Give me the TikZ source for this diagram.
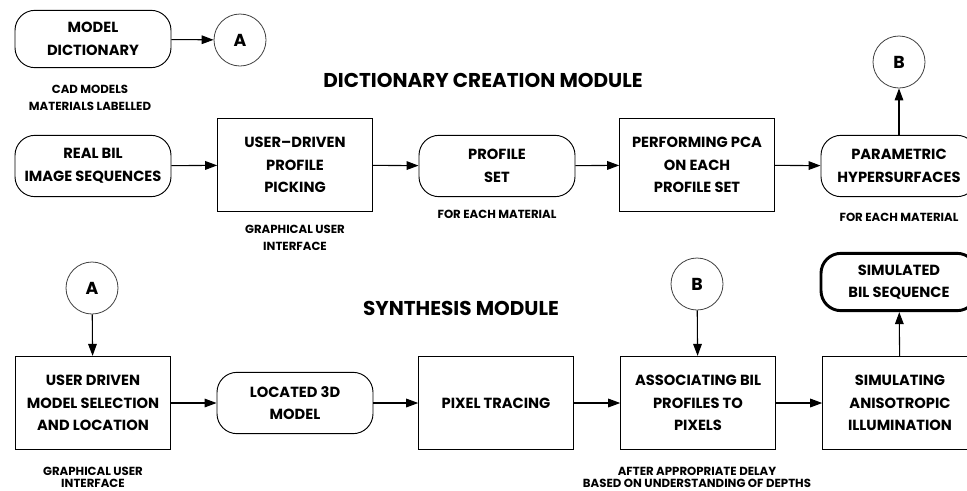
\documentclass[tikz,border=0pt]{standalone}
\usepackage{fontspec}
\setmainfont{Poppins}
\usetikzlibrary{arrows.meta}

\tikzset{
  procbox/.style={draw, rectangle, line width=0.7pt, minimum width=116pt, minimum height=70pt,
    align=center, font=\bfseries\fontsize{11}{17}\selectfont},
  termbox/.style={draw, rounded corners=15pt, line width=0.7pt, minimum width=117pt, minimum height=46pt,
    align=center, font=\bfseries\fontsize{11}{17}\selectfont},
  joint/.style={draw=black!75, circle, line width=0.6pt, minimum size=39pt, inner sep=0pt,
    text=black, font=\bfseries\fontsize{13}{13}\selectfont},
  note/.style={align=center, font=\bfseries\fontsize{8.8}{12.5}\selectfont},
  heading/.style={font=\bfseries\fontsize{15}{15}\selectfont},
  flow/.style={-{Triangle[length=9pt,width=6.5pt]}, line width=0.8pt},
}

\begin{document}
\begin{tikzpicture}[x=0.75pt,y=-0.75pt]
\useasboundingbox (0,0) rectangle (967,490);

% dictionary creation
\node[termbox, minimum height=43pt] (dict) at (93,39) {MODEL\\DICTIONARY};
\node[joint] (circA) at (240,40) {A};
\node[note] (cadnote) at (90,98) {CAD MODELS\\MATERIALS LABELLED};
\node[heading] (title1) at (483,80) {DICTIONARY CREATION MODULE};
\node[joint] (circB) at (899,62) {B};

\node[termbox] (realbil) at (93,166) {REAL BIL\\IMAGE SEQUENCES};
\node[procbox] (picking) at (295,165) {USER--DRIVEN\\PROFILE\\PICKING};
\node[note] (pickgui) at (295,238) {GRAPHICAL USER\\INTERFACE};
\node[termbox] (profset) at (497,166) {PROFILE\\SET};
\node[note] (profnote) at (497,214) {FOR EACH MATERIAL};
\node[procbox] (pca) at (697,165) {PERFORMING PCA\\ON EACH\\PROFILE SET};
\node[termbox] (param) at (899,166) {PARAMETRIC\\HYPERSURFACES};
\node[note] (paramnote) at (899,217) {FOR EACH MATERIAL};

\draw[flow] (dict) -- (circA);
\draw[flow] (realbil) -- (picking);
\draw[flow] (picking) -- (profset);
\draw[flow] (profset) -- (pca);
\draw[flow] (pca) -- (param);
\draw[flow] (param) -- (circB);

% synthesis
\node[heading] (title2) at (461,308) {SYNTHESIS MODULE};
\node[joint] (circA2) at (92,288) {A};
\node[joint] (circB2) at (697,284) {B};
\node[termbox, line width=2.2pt, minimum height=43pt] (simbil) at (899,282) {SIMULATED\\BIL SEQUENCE};

\node[procbox] (select) at (93,403) {USER DRIVEN\\MODEL SELECTION\\AND LOCATION};
\node[note, font=\bfseries\fontsize{8.8}{9}\selectfont] (selnote) at (93,477) {GRAPHICAL USER\\INTERFACE};
\node[termbox] (located) at (295,403) {LOCATED 3D\\MODEL};
\node[procbox] (tracing) at (496,403) {PIXEL TRACING};
\node[procbox] (assoc) at (698,403) {ASSOCIATING BIL\\PROFILES TO\\PIXELS};
\node[note, font=\bfseries\fontsize{8.8}{9}\selectfont] (delaynote) at (697,477) {AFTER APPROPRIATE DELAY\\BASED ON UNDERSTANDING OF DEPTHS};
\node[procbox] (simul) at (900,403) {SIMULATING\\ANISOTROPIC\\ILLUMINATION};

\draw[flow] (circA2) -- (select);
\draw[flow] (select) -- (located);
\draw[flow] (located) -- (tracing);
\draw[flow] (tracing) -- (assoc);
\draw[flow] (circB2) -- (assoc);
\draw[flow] (assoc) -- (simul);
\draw[flow] (simul) -- (simbil);
\end{tikzpicture}
\end{document}
